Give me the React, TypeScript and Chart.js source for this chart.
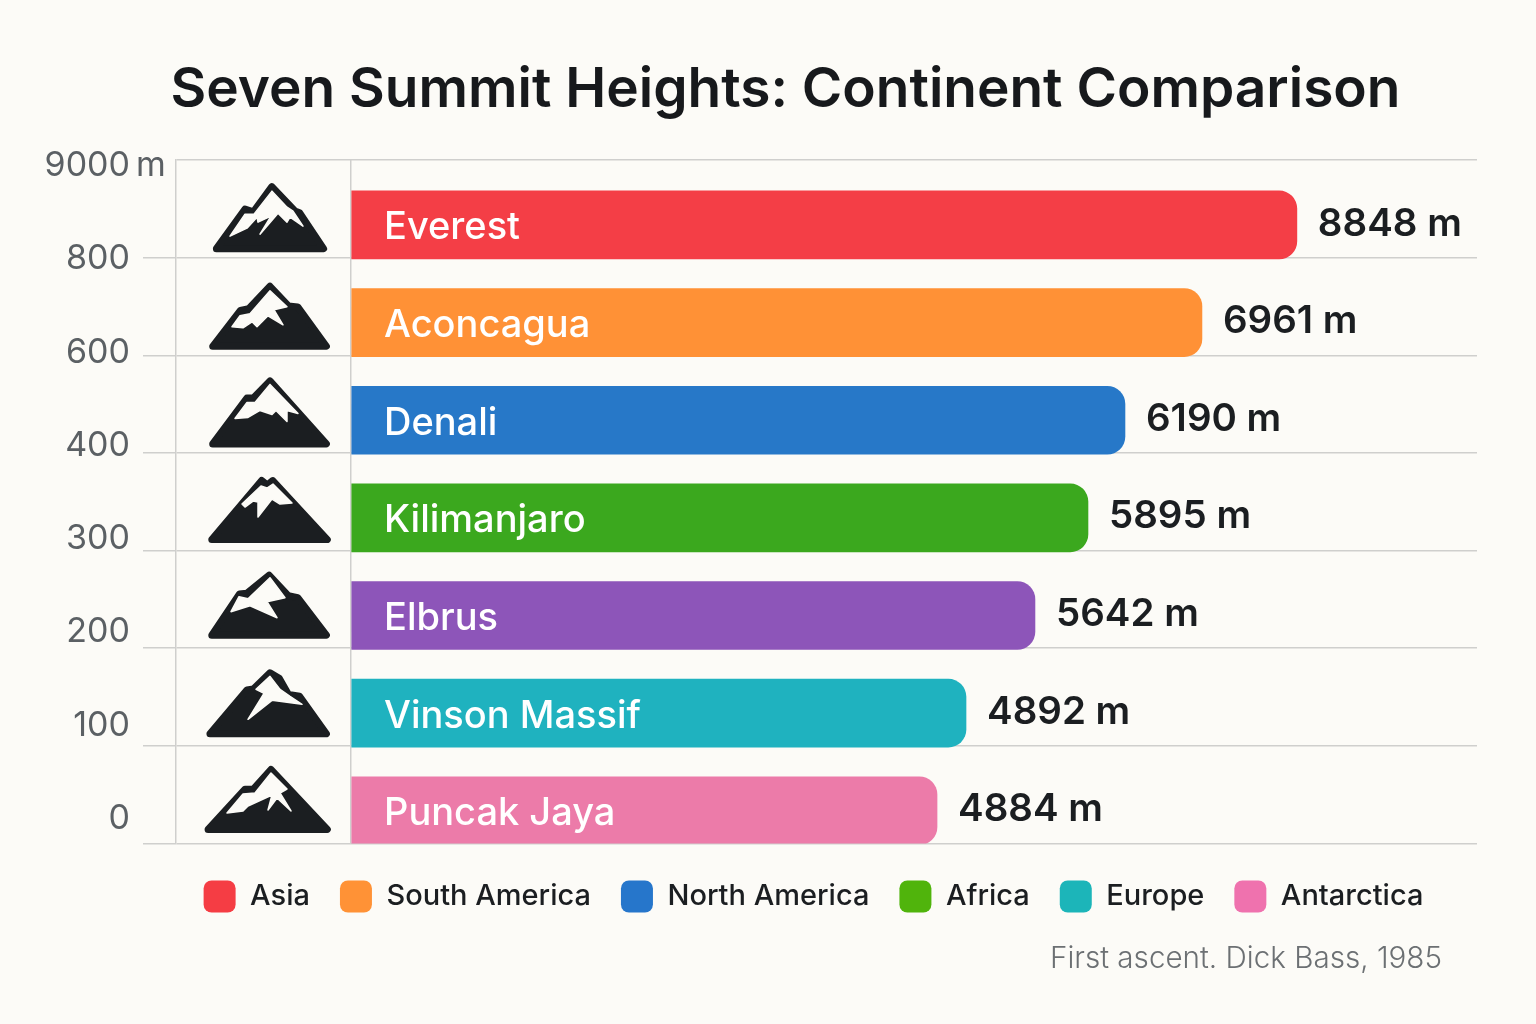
import React, { useEffect, useRef } from "react";
import { Chart, registerables } from "chart.js";

Chart.register(...registerables);

const TITLE = "Seven Summit Heights: Continent Comparison";
const NOTE = "First ascent. Dick Bass, 1985";
const SUMMITS = ["Everest", "Aconcagua", "Denali", "Kilimanjaro", "Elbrus", "Vinson Massif", "Puncak Jaya"];
const HEIGHT_LABELS = ["8848 m", "6961 m", "6190 m", "5895 m", "5642 m", "4892 m", "4884 m"];
// The bars in the picture are not in proportion to their printed heights: these are the drawn lengths.
const DRAWN_LENGTHS = [8848, 7960, 7240, 6894, 6398, 5753, 5482];
const BAR_COLORS = ["#F43E46", "#FF9136", "#2778C8", "#3BA81E", "#8D55B9", "#1FB2BF", "#EC7BA9"];
const AXIS_LABELS = ["0", "100", "200", "300", "400", "600", "800", "9000"];
const AXIS_TOP_UNIT = "m";
const LEGEND_NAMES = ["Asia", "South America", "North America", "Africa", "Europe", "Antarctica"];
const LEGEND_COLORS = ["#F53D44", "#FF9236", "#2676CB", "#50B40C", "#1CB5B9", "#EF72AE"];

const BG = "#FCFBF7";
const INK = "#1B1E21";
const GRID = "#CFCFCD";
const FONT = "Inter, 'Noto Sans', sans-serif";

type Pt = [number, number];
// Icon outlines, relative to the icon's centre and the bottom of its band.
const ICONS: { outer: Pt[]; snow: Pt[] }[] = [
  {
    outer: [[-58, -7], [-27, -51], [-18, -48], [2, -76], [27, -49], [32, -47], [58, -7]],
    snow: [[2, -67], [-16, -44], [-25, -44], [-40, -22], [-23, -30], [-13, -41], [-12, -36], [1, -42], [-10, -24], [8, -45], [17, -36], [20, -41], [33, -32], [23, -47], [17, -51]],
  },
  {
    outer: [[-62, -7], [-32, -47], [-23, -49], [0, -74], [20, -52], [30, -51], [61, -7]],
    snow: [[0, -65], [-20, -42], [-30, -40], [-38, -29], [-27, -28], [-18, -34], [-13, -29], [-2, -40], [13, -31], [4, -46], [17, -49]],
  },
  {
    outer: [[-62, -7], [-25, -58], [-18, -58], [0, -77], [61, -7]],
    snow: [[0, -69], [-15, -51], [-23, -51], [-35, -35], [-22, -36], [-10, -43], [2, -39], [6, -43], [17, -32], [17, -43], [28, -40]],
  },
  {
    outer: [[-63, -9], [-9, -75], [-3, -70], [3, -75], [62, -9]],
    snow: [[-9, -65], [-3, -63], [3, -67], [22, -48], [10, -47], [2, -52], [-12, -34], [-12, -49], [-17, -50], [-25, -44], [-28, -47]],
  },
  {
    outer: [[-63, -11], [-33, -57], [-25, -58], [-1, -78], [20, -55], [30, -53], [61, -11]],
    snow: [[0, -71], [-22, -50], [-31, -52], [-39, -37], [-20, -43], [7, -31], [-3, -47], [15, -51]],
  },
  {
    outer: [[-65, -10], [-25, -59], [-18, -60], [0, -78], [10, -72], [20, -54], [32, -52], [61, -10]],
    snow: [[0, -70], [-14, -57], [-6, -53], [-22, -27], [2, -46], [32, -42], [20, -50], [10, -57]],
  },
  {
    outer: [[-67, -12], [-27, -57], [-18, -57], [1, -79], [62, -12]],
    snow: [[1, -71], [-15, -51], [-27, -50], [-43, -31], [-27, -33], [-22, -38], [2, -49], [-2, -34], [7, -46], [21, -33], [10, -51], [17, -55]],
  },
];

function tracePoly(ctx: CanvasRenderingContext2D, pts: Pt[], cx: number, by: number, inset = 0) {
  const vs = pts.map((p) => p[1]);
  const base = Math.max(...vs);
  const top = Math.min(...vs);
  const mid = (base + top) / 2;
  const ky = inset ? (base - top - 2 * inset) / (base - top) : 1;
  ctx.beginPath();
  pts.forEach(([u, v], i) => {
    // rounding comes from a wide stroke: move the outline inward by about half of it
    const x = cx + u * (inset ? 1 - (1.3 * inset) / 60 : 1);
    const y = by + mid + (v - mid) * ky;
    if (i === 0) ctx.moveTo(x, y);
    else ctx.lineTo(x, y);
  });
  ctx.closePath();
}

const layoutTweak = {
  id: "layoutTweak",
  afterLayout(chart: any) {
    const shift = (box: any, dx: number, dy = 0) => {
      if (box) {
        box.left += dx;
        box.right += dx;
        box.top += dy;
        box.bottom += dy;
      }
    };
    shift(chart.titleBlock, 47);
    shift(chart.legend, 75, 7);
    shift(chart.boxes.find((b: any) => b.options && b.options.text === NOTE), -35);
  },
};

const annotate = {
  id: "annotate",
  afterDatasetsDraw(chart: any) {
    const { ctx, scales } = chart;
    const meta = chart.getDatasetMeta(0);
    const x0 = scales.x.getPixelForValue(0);
    const iconX = x0 - 81;
    ctx.save();
    meta.data.forEach((bar: any, i: number) => {
      const band = scales.y.getPixelForValue(i + 1);
      ctx.textBaseline = "middle";
      ctx.textAlign = "left";
      ctx.fillStyle = "#FFFFFF";
      ctx.font = `500 38px ${FONT}`;
      ctx.fillText(SUMMITS[i], x0 + 33, bar.y + 3);
      ctx.fillStyle = INK;
      ctx.font = `600 38.5px ${FONT}`;
      ctx.fillText(HEIGHT_LABELS[i], bar.x + 21, bar.y - 1);

      const icon = ICONS[i];
      tracePoly(ctx, icon.outer, iconX, band + 1.5, 3.5);
      ctx.fillStyle = INK;
      ctx.strokeStyle = INK;
      ctx.lineWidth = 7;
      ctx.lineJoin = "round";
      ctx.fill();
      ctx.stroke();
      tracePoly(ctx, icon.snow, iconX, band + 0.5);
      ctx.fillStyle = BG;
      ctx.strokeStyle = BG;
      ctx.lineWidth = 1.5;
      ctx.fill();
      ctx.stroke();
    });
    const y2 = scales.y2;
    ctx.textBaseline = "middle";
    ctx.textAlign = "left";
    ctx.fillStyle = "#5B6064";
    ctx.font = `400 34px ${FONT}`;
    ctx.fillText(AXIS_TOP_UNIT, y2.right - 13 + 6, y2.getPixelForValue(AXIS_LABELS.length - 1));
    ctx.restore();
  },
};

export default function App() {
  const ref = useRef<HTMLCanvasElement>(null);
  useEffect(() => {
    document.body.style.margin = "0";
    document.body.style.background = BG;
    const isTop = (c: any) => c.tick && c.tick.value === 0;
    const chart = new Chart(ref.current as HTMLCanvasElement, {
      type: "bar",
      data: {
        labels: SUMMITS,
        datasets: [
          {
            label: "Height",
            data: DRAWN_LENGTHS.map((x, i) => ({ x, y: i + 0.665 })),
            backgroundColor: BAR_COLORS,
            barThickness: 68,
            borderWidth: 0,
            borderSkipped: false,
            borderRadius: { topLeft: 0, bottomLeft: 0, topRight: 18, bottomRight: 18 },
          },
        ],
      },
      options: {
        animation: false,
        responsive: false,
        indexAxis: "y",
        layout: { padding: { top: 0, right: 59, bottom: 47, left: 0 } },
        scales: {
          x: {
            type: "linear",
            min: -1637,
            max: 10533,
            afterBuildTicks: (s: any) => {
              s.ticks = [{ value: 0 }];
            },
            afterFit: (s: any) => {
              s.height = 0;
            },
            grid: { color: GRID, lineWidth: 1.5, drawTicks: false },
            border: { display: false },
            ticks: { display: false },
          },
          y: {
            type: "linear",
            position: "left",
            reverse: true,
            offset: false,
            min: 0,
            max: 7,
            weight: 0,
            afterFit: (s: any) => {
              s.width = 33;
            },
            ticks: { display: false, stepSize: 1 },
            grid: {
              offset: false,
              color: GRID,
              lineWidth: 1.5,
              tickLength: 33,
              tickWidth: (c: any) => (isTop(c) ? 0 : 1.5),
              tickColor: (c: any) => (isTop(c) ? "rgba(0,0,0,0)" : GRID),
            },
            border: { display: true, color: GRID, width: 1.5 },
          },
          y2: {
            type: "linear",
            position: "left",
            offset: false,
            min: -0.267,
            max: 7.064,
            weight: 1,
            afterFit: (s: any) => {
              s.width = 143;
            },
            afterBuildTicks: (s: any) => {
              s.ticks = AXIS_LABELS.map((_, i) => ({ value: i }));
            },
            grid: { display: false, drawTicks: false, offset: false },
            border: { display: false },
            ticks: {
              autoSkip: false,
              padding: 13,
              color: "#5B6064",
              font: { family: FONT, size: 34, weight: "400" },
              callback: (_v: any, i: number) => AXIS_LABELS[i],
            },
          },
        },
        plugins: {
          tooltip: { enabled: false },
          title: {
            display: true,
            text: TITLE,
            color: "#17191C",
            font: { family: FONT, size: 55, weight: "600" },
            padding: { top: 57, bottom: 37 },
          },
          subtitle: {
            display: true,
            position: "bottom",
            align: "end",
            text: NOTE,
            color: "#6C7073",
            font: { family: FONT, size: 29.6, weight: "300" },
            padding: { top: 26, bottom: 0 },
          },
          legend: {
            display: true,
            position: "bottom",
            onClick: () => {},
            labels: {
              boxWidth: 32,
              boxHeight: 32,
              padding: 30,
              useBorderRadius: true,
              borderRadius: 8,
              color: INK,
              font: { family: FONT, size: 29, weight: "500" },
              generateLabels: () =>
                LEGEND_NAMES.map((text, i) => ({
                  text,
                  fillStyle: LEGEND_COLORS[i],
                  strokeStyle: LEGEND_COLORS[i],
                  lineWidth: 0,
                  hidden: false,
                  borderRadius: 8,
                  fontColor: INK,
                })),
            },
          },
        },
      } as any,
      plugins: [layoutTweak, annotate],
    });
    return () => chart.destroy();
  }, []);
  return (
    <div style={{ width: 1536, height: 1024, background: BG }}>
      <canvas ref={ref} width={1536} height={1024} style={{ display: "block" }} />
    </div>
  );
}
